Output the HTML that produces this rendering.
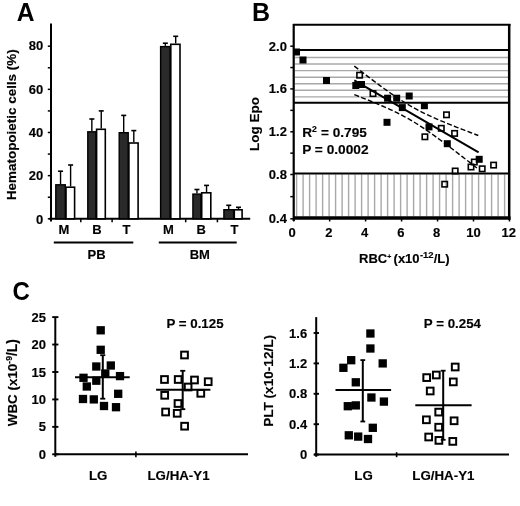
<!DOCTYPE html>
<html><head><meta charset="utf-8"><style>
html,body{margin:0;padding:0;background:#fff;}
svg{display:block;will-change:transform;}
text{font-family:"Liberation Sans", sans-serif;fill:#000;stroke:#000;stroke-width:0.15px;}
</style></head><body>
<svg width="520" height="506" viewBox="0 0 520 506">
<rect x="0" y="0" width="520" height="506" fill="#fff"/>
<text x="0.00" y="0.00" font-size="25" text-anchor="start" font-weight="bold" style="stroke-width:0" transform="translate(16.8,21.3) scale(0.985,1.0)">A</text>
<line x1="51.00" y1="23.40" x2="51.00" y2="221.50" stroke="#000" stroke-width="2" />
<line x1="47.80" y1="218.80" x2="51.00" y2="218.80" stroke="#000" stroke-width="1.5" />
<line x1="47.80" y1="197.23" x2="51.00" y2="197.23" stroke="#000" stroke-width="1.5" />
<line x1="47.80" y1="175.65" x2="51.00" y2="175.65" stroke="#000" stroke-width="1.5" />
<line x1="47.80" y1="154.07" x2="51.00" y2="154.07" stroke="#000" stroke-width="1.5" />
<line x1="47.80" y1="132.50" x2="51.00" y2="132.50" stroke="#000" stroke-width="1.5" />
<line x1="47.80" y1="110.92" x2="51.00" y2="110.92" stroke="#000" stroke-width="1.5" />
<line x1="47.80" y1="89.35" x2="51.00" y2="89.35" stroke="#000" stroke-width="1.5" />
<line x1="47.80" y1="67.78" x2="51.00" y2="67.78" stroke="#000" stroke-width="1.5" />
<line x1="47.80" y1="46.20" x2="51.00" y2="46.20" stroke="#000" stroke-width="1.5" />
<text x="43.20" y="223.80" font-size="13" text-anchor="end" font-weight="bold" >0</text>
<text x="43.20" y="180.43" font-size="13" text-anchor="end" font-weight="bold" >20</text>
<text x="43.20" y="137.05" font-size="13" text-anchor="end" font-weight="bold" >40</text>
<text x="43.20" y="93.67" font-size="13" text-anchor="end" font-weight="bold" >60</text>
<text x="43.20" y="50.30" font-size="13" text-anchor="end" font-weight="bold" >80</text>
<line x1="49.20" y1="218.80" x2="250.20" y2="218.80" stroke="#000" stroke-width="2" />
<line x1="80.80" y1="218.80" x2="80.80" y2="222.30" stroke="#000" stroke-width="1.5" />
<line x1="112.10" y1="218.80" x2="112.10" y2="222.30" stroke="#000" stroke-width="1.5" />
<line x1="185.70" y1="218.80" x2="185.70" y2="222.30" stroke="#000" stroke-width="1.5" />
<line x1="217.40" y1="218.80" x2="217.40" y2="222.30" stroke="#000" stroke-width="1.5" />
<line x1="60.55" y1="184.10" x2="60.55" y2="171.20" stroke="#000" stroke-width="1.4" />
<line x1="58.05" y1="171.20" x2="63.05" y2="171.20" stroke="#000" stroke-width="1.6" />
<line x1="70.60" y1="186.40" x2="70.60" y2="165.00" stroke="#000" stroke-width="1.4" />
<line x1="68.10" y1="165.00" x2="73.10" y2="165.00" stroke="#000" stroke-width="1.6" />
<rect x="55.80" y="184.80" width="9.50" height="34.00" fill="#2a2a2a" stroke="#000" stroke-width="1.4"/>
<rect x="66.00" y="187.20" width="8.60" height="31.60" fill="#fff" stroke="#000" stroke-width="1.6"/>
<line x1="91.85" y1="131.10" x2="91.85" y2="119.00" stroke="#000" stroke-width="1.4" />
<line x1="89.35" y1="119.00" x2="94.35" y2="119.00" stroke="#000" stroke-width="1.6" />
<line x1="101.25" y1="128.50" x2="101.25" y2="110.90" stroke="#000" stroke-width="1.4" />
<line x1="98.75" y1="110.90" x2="103.75" y2="110.90" stroke="#000" stroke-width="1.6" />
<rect x="87.80" y="131.80" width="8.10" height="87.00" fill="#2a2a2a" stroke="#000" stroke-width="1.4"/>
<rect x="96.60" y="129.30" width="8.70" height="89.50" fill="#fff" stroke="#000" stroke-width="1.6"/>
<line x1="123.70" y1="132.00" x2="123.70" y2="115.40" stroke="#000" stroke-width="1.4" />
<line x1="121.20" y1="115.40" x2="126.20" y2="115.40" stroke="#000" stroke-width="1.6" />
<line x1="133.80" y1="142.20" x2="133.80" y2="130.60" stroke="#000" stroke-width="1.4" />
<line x1="131.30" y1="130.60" x2="136.30" y2="130.60" stroke="#000" stroke-width="1.6" />
<rect x="119.20" y="132.70" width="9.00" height="86.10" fill="#2a2a2a" stroke="#000" stroke-width="1.4"/>
<rect x="128.90" y="143.00" width="9.20" height="75.80" fill="#fff" stroke="#000" stroke-width="1.6"/>
<line x1="165.35" y1="45.90" x2="165.35" y2="43.20" stroke="#000" stroke-width="1.4" />
<line x1="162.85" y1="43.20" x2="167.85" y2="43.20" stroke="#000" stroke-width="1.6" />
<line x1="175.70" y1="43.50" x2="175.70" y2="36.30" stroke="#000" stroke-width="1.4" />
<line x1="173.20" y1="36.30" x2="178.20" y2="36.30" stroke="#000" stroke-width="1.6" />
<rect x="160.60" y="46.60" width="9.50" height="172.20" fill="#2a2a2a" stroke="#000" stroke-width="1.4"/>
<rect x="170.80" y="44.30" width="9.20" height="174.50" fill="#fff" stroke="#000" stroke-width="1.6"/>
<line x1="196.95" y1="193.40" x2="196.95" y2="189.50" stroke="#000" stroke-width="1.4" />
<line x1="194.45" y1="189.50" x2="199.45" y2="189.50" stroke="#000" stroke-width="1.6" />
<line x1="206.55" y1="192.00" x2="206.55" y2="185.40" stroke="#000" stroke-width="1.4" />
<line x1="204.05" y1="185.40" x2="209.05" y2="185.40" stroke="#000" stroke-width="1.6" />
<rect x="192.90" y="194.10" width="8.10" height="24.70" fill="#2a2a2a" stroke="#000" stroke-width="1.4"/>
<rect x="201.70" y="192.80" width="9.10" height="26.00" fill="#fff" stroke="#000" stroke-width="1.6"/>
<line x1="228.75" y1="209.00" x2="228.75" y2="205.30" stroke="#000" stroke-width="1.4" />
<line x1="226.25" y1="205.30" x2="231.25" y2="205.30" stroke="#000" stroke-width="1.6" />
<line x1="238.50" y1="209.00" x2="238.50" y2="207.30" stroke="#000" stroke-width="1.4" />
<line x1="236.00" y1="207.30" x2="241.00" y2="207.30" stroke="#000" stroke-width="1.6" />
<rect x="223.90" y="209.70" width="9.70" height="9.10" fill="#2a2a2a" stroke="#000" stroke-width="1.4"/>
<rect x="234.30" y="209.80" width="7.80" height="9.00" fill="#fff" stroke="#000" stroke-width="1.6"/>
<text x="64.00" y="234.20" font-size="13" text-anchor="middle" font-weight="bold" >M</text>
<text x="97.00" y="234.20" font-size="13" text-anchor="middle" font-weight="bold" >B</text>
<text x="126.40" y="234.20" font-size="13" text-anchor="middle" font-weight="bold" >T</text>
<text x="168.50" y="234.20" font-size="13" text-anchor="middle" font-weight="bold" >M</text>
<text x="201.20" y="234.20" font-size="13" text-anchor="middle" font-weight="bold" >B</text>
<text x="234.50" y="234.20" font-size="13" text-anchor="middle" font-weight="bold" >T</text>
<line x1="53.80" y1="242.50" x2="133.30" y2="242.50" stroke="#000" stroke-width="2" />
<line x1="158.80" y1="242.50" x2="236.70" y2="242.50" stroke="#000" stroke-width="2" />
<text x="96.50" y="258.70" font-size="13" text-anchor="middle" font-weight="bold" >PB</text>
<text x="199.80" y="258.50" font-size="13" text-anchor="middle" font-weight="bold" >BM</text>
<text x="0.00" y="0.00" font-size="13.45" text-anchor="middle" font-weight="bold" transform="translate(16.2,124.7) rotate(-90)">Hematopoietic cells (%)</text>
<text x="252.10" y="21.30" font-size="25" text-anchor="start" font-weight="bold" style="stroke-width:0">B</text>
<line x1="295.00" y1="57.50" x2="508.00" y2="57.50" stroke="#a8a8a8" stroke-width="1.4" />
<line x1="295.00" y1="64.06" x2="508.00" y2="64.06" stroke="#a8a8a8" stroke-width="1.4" />
<line x1="295.00" y1="70.62" x2="508.00" y2="70.62" stroke="#a8a8a8" stroke-width="1.4" />
<line x1="295.00" y1="77.18" x2="508.00" y2="77.18" stroke="#a8a8a8" stroke-width="1.4" />
<line x1="295.00" y1="83.74" x2="508.00" y2="83.74" stroke="#a8a8a8" stroke-width="1.4" />
<line x1="295.00" y1="90.30" x2="508.00" y2="90.30" stroke="#a8a8a8" stroke-width="1.4" />
<line x1="295.00" y1="96.86" x2="508.00" y2="96.86" stroke="#a8a8a8" stroke-width="1.4" />
<line x1="296.60" y1="174.50" x2="296.60" y2="216.50" stroke="#a8a8a8" stroke-width="1.4" />
<line x1="303.10" y1="174.50" x2="303.10" y2="216.50" stroke="#a8a8a8" stroke-width="1.4" />
<line x1="309.60" y1="174.50" x2="309.60" y2="216.50" stroke="#a8a8a8" stroke-width="1.4" />
<line x1="316.10" y1="174.50" x2="316.10" y2="216.50" stroke="#a8a8a8" stroke-width="1.4" />
<line x1="322.60" y1="174.50" x2="322.60" y2="216.50" stroke="#a8a8a8" stroke-width="1.4" />
<line x1="329.10" y1="174.50" x2="329.10" y2="216.50" stroke="#a8a8a8" stroke-width="1.4" />
<line x1="335.60" y1="174.50" x2="335.60" y2="216.50" stroke="#a8a8a8" stroke-width="1.4" />
<line x1="342.10" y1="174.50" x2="342.10" y2="216.50" stroke="#a8a8a8" stroke-width="1.4" />
<line x1="348.60" y1="174.50" x2="348.60" y2="216.50" stroke="#a8a8a8" stroke-width="1.4" />
<line x1="355.10" y1="174.50" x2="355.10" y2="216.50" stroke="#a8a8a8" stroke-width="1.4" />
<line x1="361.60" y1="174.50" x2="361.60" y2="216.50" stroke="#a8a8a8" stroke-width="1.4" />
<line x1="368.10" y1="174.50" x2="368.10" y2="216.50" stroke="#a8a8a8" stroke-width="1.4" />
<line x1="374.60" y1="174.50" x2="374.60" y2="216.50" stroke="#a8a8a8" stroke-width="1.4" />
<line x1="381.10" y1="174.50" x2="381.10" y2="216.50" stroke="#a8a8a8" stroke-width="1.4" />
<line x1="387.60" y1="174.50" x2="387.60" y2="216.50" stroke="#a8a8a8" stroke-width="1.4" />
<line x1="394.10" y1="174.50" x2="394.10" y2="216.50" stroke="#a8a8a8" stroke-width="1.4" />
<line x1="400.60" y1="174.50" x2="400.60" y2="216.50" stroke="#a8a8a8" stroke-width="1.4" />
<line x1="407.10" y1="174.50" x2="407.10" y2="216.50" stroke="#a8a8a8" stroke-width="1.4" />
<line x1="413.60" y1="174.50" x2="413.60" y2="216.50" stroke="#a8a8a8" stroke-width="1.4" />
<line x1="420.10" y1="174.50" x2="420.10" y2="216.50" stroke="#a8a8a8" stroke-width="1.4" />
<line x1="426.60" y1="174.50" x2="426.60" y2="216.50" stroke="#a8a8a8" stroke-width="1.4" />
<line x1="433.10" y1="174.50" x2="433.10" y2="216.50" stroke="#a8a8a8" stroke-width="1.4" />
<line x1="439.60" y1="174.50" x2="439.60" y2="216.50" stroke="#a8a8a8" stroke-width="1.4" />
<line x1="446.10" y1="174.50" x2="446.10" y2="216.50" stroke="#a8a8a8" stroke-width="1.4" />
<line x1="452.60" y1="174.50" x2="452.60" y2="216.50" stroke="#a8a8a8" stroke-width="1.4" />
<line x1="459.10" y1="174.50" x2="459.10" y2="216.50" stroke="#a8a8a8" stroke-width="1.4" />
<line x1="465.60" y1="174.50" x2="465.60" y2="216.50" stroke="#a8a8a8" stroke-width="1.4" />
<line x1="472.10" y1="174.50" x2="472.10" y2="216.50" stroke="#a8a8a8" stroke-width="1.4" />
<line x1="478.60" y1="174.50" x2="478.60" y2="216.50" stroke="#a8a8a8" stroke-width="1.4" />
<line x1="485.10" y1="174.50" x2="485.10" y2="216.50" stroke="#a8a8a8" stroke-width="1.4" />
<line x1="491.60" y1="174.50" x2="491.60" y2="216.50" stroke="#a8a8a8" stroke-width="1.4" />
<line x1="498.10" y1="174.50" x2="498.10" y2="216.50" stroke="#a8a8a8" stroke-width="1.4" />
<line x1="504.60" y1="174.50" x2="504.60" y2="216.50" stroke="#a8a8a8" stroke-width="1.4" />
<line x1="294.00" y1="50.00" x2="509.00" y2="50.00" stroke="#000" stroke-width="2" />
<line x1="294.00" y1="102.70" x2="509.00" y2="102.70" stroke="#000" stroke-width="2" />
<line x1="294.00" y1="173.40" x2="509.00" y2="173.40" stroke="#000" stroke-width="2" />
<line x1="293.70" y1="24.00" x2="293.70" y2="221.00" stroke="#000" stroke-width="2.2" />
<line x1="293.00" y1="24.70" x2="510.50" y2="24.70" stroke="#000" stroke-width="2" />
<line x1="509.20" y1="24.00" x2="509.20" y2="219.80" stroke="#000" stroke-width="2.5" />
<line x1="293.00" y1="218.00" x2="510.50" y2="218.00" stroke="#000" stroke-width="3.6" />
<line x1="290.30" y1="46.20" x2="294.00" y2="46.20" stroke="#000" stroke-width="1.5" />
<line x1="290.30" y1="67.55" x2="294.00" y2="67.55" stroke="#000" stroke-width="1.5" />
<line x1="290.30" y1="88.90" x2="294.00" y2="88.90" stroke="#000" stroke-width="1.5" />
<line x1="290.30" y1="110.35" x2="294.00" y2="110.35" stroke="#000" stroke-width="1.5" />
<line x1="290.30" y1="131.80" x2="294.00" y2="131.80" stroke="#000" stroke-width="1.5" />
<line x1="290.30" y1="153.15" x2="294.00" y2="153.15" stroke="#000" stroke-width="1.5" />
<line x1="290.30" y1="174.50" x2="294.00" y2="174.50" stroke="#000" stroke-width="1.5" />
<line x1="290.30" y1="196.65" x2="294.00" y2="196.65" stroke="#000" stroke-width="1.5" />
<line x1="290.30" y1="218.80" x2="294.00" y2="218.80" stroke="#000" stroke-width="1.5" />
<text x="286.90" y="50.50" font-size="13" text-anchor="end" font-weight="bold" >2.0</text>
<text x="286.90" y="93.20" font-size="13" text-anchor="end" font-weight="bold" >1.6</text>
<text x="286.90" y="136.10" font-size="13" text-anchor="end" font-weight="bold" >1.2</text>
<text x="286.90" y="178.80" font-size="13" text-anchor="end" font-weight="bold" >0.8</text>
<text x="286.90" y="223.10" font-size="13" text-anchor="end" font-weight="bold" >0.4</text>
<line x1="293.70" y1="218.00" x2="293.70" y2="221.50" stroke="#000" stroke-width="1.5" />
<text x="292.20" y="237.30" font-size="13" text-anchor="middle" font-weight="bold" >0</text>
<line x1="329.66" y1="218.00" x2="329.66" y2="221.50" stroke="#000" stroke-width="1.5" />
<text x="328.86" y="237.30" font-size="13" text-anchor="middle" font-weight="bold" >2</text>
<line x1="365.62" y1="218.00" x2="365.62" y2="221.50" stroke="#000" stroke-width="1.5" />
<text x="364.72" y="237.30" font-size="13" text-anchor="middle" font-weight="bold" >4</text>
<line x1="401.58" y1="218.00" x2="401.58" y2="221.50" stroke="#000" stroke-width="1.5" />
<text x="400.98" y="237.30" font-size="13" text-anchor="middle" font-weight="bold" >6</text>
<line x1="437.54" y1="218.00" x2="437.54" y2="221.50" stroke="#000" stroke-width="1.5" />
<text x="436.74" y="237.30" font-size="13" text-anchor="middle" font-weight="bold" >8</text>
<line x1="473.50" y1="218.00" x2="473.50" y2="221.50" stroke="#000" stroke-width="1.5" />
<text x="473.50" y="237.30" font-size="13" text-anchor="middle" font-weight="bold" >10</text>
<line x1="509.46" y1="218.00" x2="509.46" y2="221.50" stroke="#000" stroke-width="1.5" />
<text x="508.76" y="237.30" font-size="13" text-anchor="middle" font-weight="bold" >12</text>
<text x="0.00" y="0.00" font-size="13.5" text-anchor="middle" font-weight="bold" transform="translate(259.1,124.1) rotate(-90)">Log Epo</text>
<text x="359.00" y="263.20" font-size="13" text-anchor="start" font-weight="bold" >RBC<tspan font-size="7" dy="-4">+</tspan><tspan dx="2.3" dy="4">(x10</tspan><tspan font-size="9.5" dx="0.3" dy="-5">-12</tspan><tspan dy="5">/L)</tspan></text>
<text x="302.20" y="136.90" font-size="13.6" text-anchor="start" font-weight="bold" >R<tspan font-size="8.7" dy="-5.2">2</tspan><tspan dy="5.2" dx="0.4"> = 0.795</tspan></text>
<text x="302.20" y="153.60" font-size="13.7" text-anchor="start" font-weight="bold" >P = 0.0002</text>
<path d="M354.30,66.11 L356.30,67.66 L358.30,69.21 L360.30,70.75 L362.30,72.28 L364.30,73.81 L366.30,75.34 L368.30,76.86 L370.30,78.37 L372.30,79.88 L374.30,81.38 L376.30,82.87 L378.30,84.36 L380.30,85.83 L382.30,87.29 L384.30,88.74 L386.30,90.18 L388.30,91.60 L390.30,93.01 L392.30,94.40 L394.30,95.77 L396.30,97.12 L398.30,98.45 L400.30,99.75 L402.30,101.03 L404.30,102.28 L406.30,103.51 L408.30,104.71 L410.30,105.88 L412.30,107.02 L414.30,108.13 L416.30,109.22 L418.30,110.28 L420.30,111.31 L422.30,112.32 L424.30,113.30 L426.30,114.27 L428.30,115.21 L430.30,116.14 L432.30,117.05 L434.30,117.94 L436.30,118.82 L438.30,119.68 L440.30,120.54 L442.30,121.38 L444.30,122.22 L446.30,123.04 L448.30,123.86 L450.30,124.67 L452.30,125.47 L454.30,126.27 L456.30,127.06 L458.30,127.85 L460.30,128.63 L462.30,129.41 L464.30,130.18 L466.30,130.96 L468.30,131.72 L470.30,132.49 L472.30,133.25 L474.30,134.01 L476.30,134.77 L478.30,135.52" fill="none" stroke="#000" stroke-width="1.4" stroke-dasharray="5,2.3"/>
<path d="M354.30,94.69 L356.30,95.46 L358.30,96.23 L360.30,97.01 L362.30,97.80 L364.30,98.59 L366.30,99.38 L368.30,100.18 L370.30,100.99 L372.30,101.80 L374.30,102.62 L376.30,103.45 L378.30,104.28 L380.30,105.13 L382.30,105.99 L384.30,106.86 L386.30,107.74 L388.30,108.64 L390.30,109.55 L392.30,110.48 L394.30,111.43 L396.30,112.40 L398.30,113.39 L400.30,114.41 L402.30,115.45 L404.30,116.52 L406.30,117.61 L408.30,118.73 L410.30,119.88 L412.30,121.06 L414.30,122.27 L416.30,123.50 L418.30,124.76 L420.30,126.05 L422.30,127.36 L424.30,128.70 L426.30,130.05 L428.30,131.43 L430.30,132.82 L432.30,134.23 L434.30,135.66 L436.30,137.10 L438.30,138.56 L440.30,140.02 L442.30,141.50 L444.30,142.98 L446.30,144.48 L448.30,145.98 L450.30,147.49 L452.30,149.01 L454.30,150.53 L456.30,152.06 L458.30,153.59 L460.30,155.13 L462.30,156.67 L464.30,158.22 L466.30,159.76 L468.30,161.32 L470.30,162.87 L472.30,164.43 L474.30,165.99 L476.30,167.55 L478.30,169.12" fill="none" stroke="#000" stroke-width="1.4" stroke-dasharray="5,2.3"/>
<line x1="354.30" y1="80.40" x2="478.60" y2="152.49" stroke="#000" stroke-width="2" />
<rect x="356.90" y="72.50" width="5.40" height="5.40" fill="none" stroke="#000" stroke-width="1.6"/>
<rect x="370.30" y="90.90" width="5.40" height="5.40" fill="none" stroke="#000" stroke-width="1.6"/>
<rect x="443.80" y="112.10" width="5.40" height="5.40" fill="none" stroke="#000" stroke-width="1.6"/>
<rect x="438.60" y="125.60" width="5.40" height="5.40" fill="none" stroke="#000" stroke-width="1.6"/>
<rect x="451.90" y="130.70" width="5.40" height="5.40" fill="none" stroke="#000" stroke-width="1.6"/>
<rect x="422.20" y="134.10" width="5.40" height="5.40" fill="none" stroke="#000" stroke-width="1.6"/>
<rect x="471.60" y="159.30" width="5.40" height="5.40" fill="none" stroke="#000" stroke-width="1.6"/>
<rect x="468.30" y="164.30" width="5.40" height="5.40" fill="none" stroke="#000" stroke-width="1.6"/>
<rect x="479.50" y="166.10" width="5.40" height="5.40" fill="none" stroke="#000" stroke-width="1.6"/>
<rect x="490.90" y="162.40" width="5.40" height="5.40" fill="none" stroke="#000" stroke-width="1.6"/>
<rect x="452.50" y="168.30" width="5.40" height="5.40" fill="none" stroke="#000" stroke-width="1.6"/>
<rect x="442.00" y="181.50" width="5.40" height="5.40" fill="none" stroke="#000" stroke-width="1.6"/>
<rect x="293.00" y="48.50" width="7.00" height="7.00" fill="#000" stroke="none" stroke-width="0"/>
<rect x="299.50" y="56.50" width="7.00" height="7.00" fill="#000" stroke="none" stroke-width="0"/>
<rect x="323.00" y="77.00" width="7.00" height="7.00" fill="#000" stroke="none" stroke-width="0"/>
<rect x="352.30" y="82.00" width="7.00" height="7.00" fill="#000" stroke="none" stroke-width="0"/>
<rect x="358.00" y="81.00" width="7.00" height="7.00" fill="#000" stroke="none" stroke-width="0"/>
<rect x="384.10" y="94.70" width="7.00" height="7.00" fill="#000" stroke="none" stroke-width="0"/>
<rect x="393.20" y="94.70" width="7.00" height="7.00" fill="#000" stroke="none" stroke-width="0"/>
<rect x="405.70" y="92.50" width="7.00" height="7.00" fill="#000" stroke="none" stroke-width="0"/>
<rect x="398.80" y="104.10" width="7.00" height="7.00" fill="#000" stroke="none" stroke-width="0"/>
<rect x="420.90" y="102.20" width="7.00" height="7.00" fill="#000" stroke="none" stroke-width="0"/>
<rect x="383.50" y="118.80" width="7.00" height="7.00" fill="#000" stroke="none" stroke-width="0"/>
<rect x="425.50" y="123.40" width="7.00" height="7.00" fill="#000" stroke="none" stroke-width="0"/>
<rect x="443.80" y="140.20" width="7.00" height="7.00" fill="#000" stroke="none" stroke-width="0"/>
<rect x="475.70" y="155.80" width="7.00" height="7.00" fill="#000" stroke="none" stroke-width="0"/>
<text x="0.00" y="0.00" font-size="24" text-anchor="start" font-weight="bold" style="stroke-width:0" transform="translate(12.6,300.3) scale(1,1.1)">C</text>
<line x1="55.30" y1="317.00" x2="55.30" y2="456.80" stroke="#000" stroke-width="2" />
<line x1="52.20" y1="454.30" x2="58.40" y2="454.30" stroke="#000" stroke-width="1.9" />
<text x="46.00" y="458.90" font-size="13" text-anchor="end" font-weight="bold" >0</text>
<line x1="52.20" y1="426.86" x2="58.40" y2="426.86" stroke="#000" stroke-width="1.9" />
<text x="46.00" y="431.46" font-size="13" text-anchor="end" font-weight="bold" >5</text>
<line x1="52.20" y1="399.42" x2="58.40" y2="399.42" stroke="#000" stroke-width="1.9" />
<text x="46.00" y="404.02" font-size="13" text-anchor="end" font-weight="bold" >10</text>
<line x1="52.20" y1="371.98" x2="58.40" y2="371.98" stroke="#000" stroke-width="1.9" />
<text x="46.00" y="376.58" font-size="13" text-anchor="end" font-weight="bold" >15</text>
<line x1="52.20" y1="344.54" x2="58.40" y2="344.54" stroke="#000" stroke-width="1.9" />
<text x="46.00" y="349.14" font-size="13" text-anchor="end" font-weight="bold" >20</text>
<line x1="52.20" y1="317.10" x2="58.40" y2="317.10" stroke="#000" stroke-width="1.9" />
<text x="46.00" y="321.70" font-size="13" text-anchor="end" font-weight="bold" >25</text>
<line x1="55.00" y1="454.30" x2="248.00" y2="454.30" stroke="#000" stroke-width="2" />
<line x1="135.90" y1="451.60" x2="135.90" y2="457.20" stroke="#000" stroke-width="1.6" />
<text x="98.20" y="479.70" font-size="13.3" text-anchor="middle" font-weight="bold" >LG</text>
<text x="178.50" y="479.70" font-size="13.3" text-anchor="middle" font-weight="bold" >LG/HA-Y1</text>
<text x="195.00" y="328.00" font-size="13.3" text-anchor="middle" font-weight="bold" >P = 0.125</text>
<text x="0.00" y="0.00" font-size="13.4" text-anchor="middle" font-weight="bold" transform="translate(16.8,382.6) rotate(-90)">WBC (x10<tspan font-size="8.5" dy="-4.5">-9</tspan><tspan dy="4.5" font-size="14">/L)</tspan></text>
<line x1="75.00" y1="377.20" x2="129.70" y2="377.20" stroke="#000" stroke-width="2" />
<line x1="102.80" y1="355.20" x2="102.80" y2="398.70" stroke="#000" stroke-width="2" />
<line x1="100.20" y1="355.20" x2="105.30" y2="355.20" stroke="#000" stroke-width="1.8" />
<line x1="100.20" y1="398.70" x2="105.30" y2="398.70" stroke="#000" stroke-width="1.8" />
<line x1="156.10" y1="389.80" x2="210.40" y2="389.80" stroke="#000" stroke-width="2" />
<line x1="182.70" y1="370.80" x2="182.70" y2="409.20" stroke="#000" stroke-width="2" />
<line x1="180.20" y1="370.80" x2="185.30" y2="370.80" stroke="#000" stroke-width="1.8" />
<line x1="180.20" y1="409.20" x2="185.30" y2="409.20" stroke="#000" stroke-width="1.8" />
<rect x="96.55" y="326.15" width="8.30" height="8.30" fill="#000" stroke="none" stroke-width="0"/>
<rect x="96.55" y="345.65" width="8.30" height="8.30" fill="#000" stroke="none" stroke-width="0"/>
<rect x="92.15" y="362.35" width="8.30" height="8.30" fill="#000" stroke="none" stroke-width="0"/>
<rect x="106.65" y="361.35" width="8.30" height="8.30" fill="#000" stroke="none" stroke-width="0"/>
<rect x="101.15" y="369.35" width="8.30" height="8.30" fill="#000" stroke="none" stroke-width="0"/>
<rect x="115.85" y="371.95" width="8.30" height="8.30" fill="#000" stroke="none" stroke-width="0"/>
<rect x="79.35" y="373.65" width="8.30" height="8.30" fill="#000" stroke="none" stroke-width="0"/>
<rect x="92.15" y="376.55" width="8.30" height="8.30" fill="#000" stroke="none" stroke-width="0"/>
<rect x="82.65" y="382.35" width="8.30" height="8.30" fill="#000" stroke="none" stroke-width="0"/>
<rect x="78.85" y="394.85" width="8.30" height="8.30" fill="#000" stroke="none" stroke-width="0"/>
<rect x="89.65" y="395.25" width="8.30" height="8.30" fill="#000" stroke="none" stroke-width="0"/>
<rect x="114.05" y="389.65" width="8.30" height="8.30" fill="#000" stroke="none" stroke-width="0"/>
<rect x="99.85" y="401.85" width="8.30" height="8.30" fill="#000" stroke="none" stroke-width="0"/>
<rect x="111.85" y="403.05" width="8.30" height="8.30" fill="#000" stroke="none" stroke-width="0"/>
<rect x="181.15" y="351.65" width="6.70" height="6.70" fill="none" stroke="#000" stroke-width="2.0"/>
<rect x="161.15" y="376.15" width="6.70" height="6.70" fill="none" stroke="#000" stroke-width="2.0"/>
<rect x="174.85" y="376.15" width="6.70" height="6.70" fill="none" stroke="#000" stroke-width="2.0"/>
<rect x="191.15" y="376.65" width="6.70" height="6.70" fill="none" stroke="#000" stroke-width="2.0"/>
<rect x="204.85" y="378.35" width="6.70" height="6.70" fill="none" stroke="#000" stroke-width="2.0"/>
<rect x="184.75" y="383.65" width="6.70" height="6.70" fill="none" stroke="#000" stroke-width="2.0"/>
<rect x="161.35" y="391.95" width="6.70" height="6.70" fill="none" stroke="#000" stroke-width="2.0"/>
<rect x="197.45" y="389.95" width="6.70" height="6.70" fill="none" stroke="#000" stroke-width="2.0"/>
<rect x="174.65" y="400.15" width="6.70" height="6.70" fill="none" stroke="#000" stroke-width="2.0"/>
<rect x="162.25" y="408.65" width="6.70" height="6.70" fill="none" stroke="#000" stroke-width="2.0"/>
<rect x="173.85" y="409.95" width="6.70" height="6.70" fill="none" stroke="#000" stroke-width="2.0"/>
<rect x="181.25" y="422.85" width="6.70" height="6.70" fill="none" stroke="#000" stroke-width="2.0"/>
<line x1="316.20" y1="317.10" x2="316.20" y2="456.80" stroke="#000" stroke-width="2" />
<line x1="313.60" y1="454.60" x2="319.00" y2="454.60" stroke="#000" stroke-width="1.9" />
<text x="307.20" y="459.20" font-size="13" text-anchor="end" font-weight="bold" >0</text>
<line x1="313.60" y1="424.20" x2="319.00" y2="424.20" stroke="#000" stroke-width="1.9" />
<text x="307.20" y="428.80" font-size="13" text-anchor="end" font-weight="bold" >0.4</text>
<line x1="313.60" y1="393.80" x2="319.00" y2="393.80" stroke="#000" stroke-width="1.9" />
<text x="307.20" y="398.40" font-size="13" text-anchor="end" font-weight="bold" >0.8</text>
<line x1="313.60" y1="363.40" x2="319.00" y2="363.40" stroke="#000" stroke-width="1.9" />
<text x="307.20" y="368.00" font-size="13" text-anchor="end" font-weight="bold" >1.2</text>
<line x1="313.60" y1="333.00" x2="319.00" y2="333.00" stroke="#000" stroke-width="1.9" />
<text x="307.20" y="337.60" font-size="13" text-anchor="end" font-weight="bold" >1.6</text>
<line x1="314.00" y1="454.60" x2="509.00" y2="454.60" stroke="#000" stroke-width="2" />
<line x1="396.60" y1="452.20" x2="396.60" y2="457.20" stroke="#000" stroke-width="1.6" />
<text x="363.50" y="479.70" font-size="13.3" text-anchor="middle" font-weight="bold" >LG</text>
<text x="443.40" y="479.70" font-size="13.3" text-anchor="middle" font-weight="bold" >LG/HA-Y1</text>
<text x="452.40" y="328.00" font-size="13.3" text-anchor="middle" font-weight="bold" >P = 0.254</text>
<text x="0.00" y="0.00" font-size="13.6" text-anchor="middle" font-weight="bold" transform="translate(272.5,380.9) rotate(-90)">PLT (x10-12/L)</text>
<line x1="335.50" y1="390.00" x2="391.10" y2="390.00" stroke="#000" stroke-width="2" />
<line x1="362.80" y1="360.10" x2="362.80" y2="421.50" stroke="#000" stroke-width="2" />
<line x1="360.40" y1="360.10" x2="365.20" y2="360.10" stroke="#000" stroke-width="1.8" />
<line x1="360.40" y1="421.50" x2="365.20" y2="421.50" stroke="#000" stroke-width="1.8" />
<line x1="415.30" y1="405.30" x2="471.60" y2="405.30" stroke="#000" stroke-width="2" />
<line x1="443.20" y1="370.70" x2="443.20" y2="439.80" stroke="#000" stroke-width="2" />
<line x1="440.80" y1="370.70" x2="445.60" y2="370.70" stroke="#000" stroke-width="1.8" />
<line x1="440.80" y1="439.80" x2="445.60" y2="439.80" stroke="#000" stroke-width="1.8" />
<rect x="366.25" y="329.35" width="8.30" height="8.30" fill="#000" stroke="none" stroke-width="0"/>
<rect x="366.25" y="344.35" width="8.30" height="8.30" fill="#000" stroke="none" stroke-width="0"/>
<rect x="347.05" y="356.05" width="8.30" height="8.30" fill="#000" stroke="none" stroke-width="0"/>
<rect x="339.25" y="363.65" width="8.30" height="8.30" fill="#000" stroke="none" stroke-width="0"/>
<rect x="378.55" y="359.25" width="8.30" height="8.30" fill="#000" stroke="none" stroke-width="0"/>
<rect x="351.65" y="378.15" width="8.30" height="8.30" fill="#000" stroke="none" stroke-width="0"/>
<rect x="367.25" y="393.35" width="8.30" height="8.30" fill="#000" stroke="none" stroke-width="0"/>
<rect x="379.75" y="397.45" width="8.30" height="8.30" fill="#000" stroke="none" stroke-width="0"/>
<rect x="343.65" y="402.05" width="8.30" height="8.30" fill="#000" stroke="none" stroke-width="0"/>
<rect x="351.65" y="401.25" width="8.30" height="8.30" fill="#000" stroke="none" stroke-width="0"/>
<rect x="368.65" y="423.65" width="8.30" height="8.30" fill="#000" stroke="none" stroke-width="0"/>
<rect x="344.65" y="431.15" width="8.30" height="8.30" fill="#000" stroke="none" stroke-width="0"/>
<rect x="354.05" y="432.45" width="8.30" height="8.30" fill="#000" stroke="none" stroke-width="0"/>
<rect x="363.85" y="434.85" width="8.30" height="8.30" fill="#000" stroke="none" stroke-width="0"/>
<rect x="451.85" y="363.65" width="6.70" height="6.70" fill="none" stroke="#000" stroke-width="2.0"/>
<rect x="432.95" y="371.65" width="6.70" height="6.70" fill="none" stroke="#000" stroke-width="2.0"/>
<rect x="423.35" y="374.25" width="6.70" height="6.70" fill="none" stroke="#000" stroke-width="2.0"/>
<rect x="449.95" y="378.55" width="6.70" height="6.70" fill="none" stroke="#000" stroke-width="2.0"/>
<rect x="426.85" y="387.65" width="6.70" height="6.70" fill="none" stroke="#000" stroke-width="2.0"/>
<rect x="435.35" y="408.75" width="6.70" height="6.70" fill="none" stroke="#000" stroke-width="2.0"/>
<rect x="423.05" y="416.45" width="6.70" height="6.70" fill="none" stroke="#000" stroke-width="2.0"/>
<rect x="450.75" y="417.45" width="6.70" height="6.70" fill="none" stroke="#000" stroke-width="2.0"/>
<rect x="435.35" y="423.85" width="6.70" height="6.70" fill="none" stroke="#000" stroke-width="2.0"/>
<rect x="425.35" y="433.65" width="6.70" height="6.70" fill="none" stroke="#000" stroke-width="2.0"/>
<rect x="435.55" y="437.05" width="6.70" height="6.70" fill="none" stroke="#000" stroke-width="2.0"/>
<rect x="449.45" y="438.05" width="6.70" height="6.70" fill="none" stroke="#000" stroke-width="2.0"/>
</svg>
</body></html>
